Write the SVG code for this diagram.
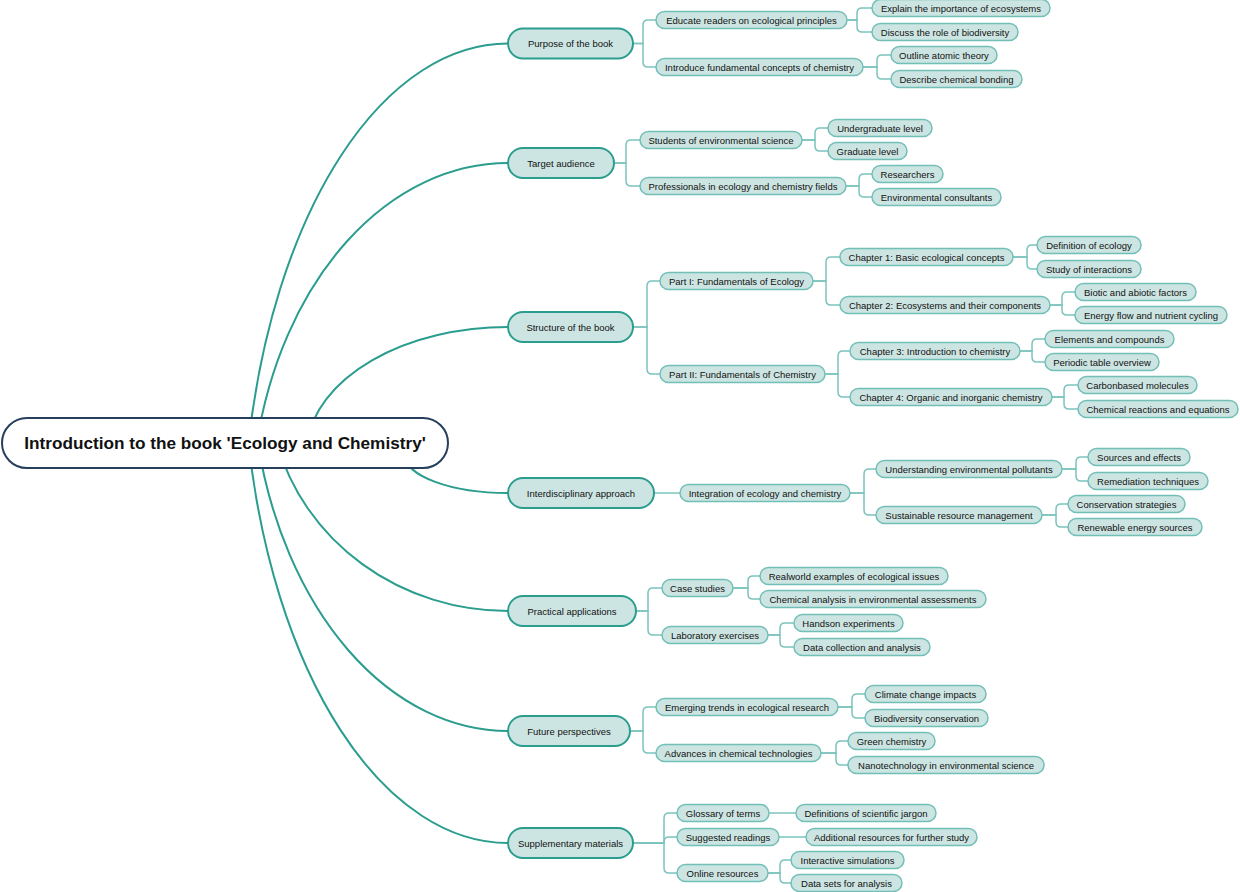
<svg xmlns="http://www.w3.org/2000/svg" width="1240" height="892" viewBox="0 0 1240 892">
<style>
text{font-family:"Liberation Sans",Arial,Helvetica,sans-serif;fill:#111;text-anchor:middle}
.t{font-size:9.5px}
.n2 text{transform:translateY(0.6px)}
.root rect{fill:#fff;stroke:#263f5c;stroke-width:2}
.root text{font-size:17.2px;font-weight:bold}
.n1 rect{fill:#cde5e2;stroke:#2a9d8f;stroke-width:2}
.n2 rect{fill:#cde5e2;stroke:#72bfb8;stroke-width:1.5}
.c1 path{fill:none;stroke:#2a9d8f;stroke-width:2}
.c2 path{fill:none;stroke:#7cc4bd;stroke-width:1.5}
</style>
<g id="connectors">
<g class="c1">
<path d="M248.5,443A265,502 0 0 1 508,43.5"/>
<path d="M256.8,443A257,355 0 0 1 508,163"/>
<path d="M306.9,443A202,128 0 0 1 508,327"/>
<path d="M405,455A103,38 0 0 0 508,493"/>
<path d="M277,443A239,226 0 0 0 508,611"/>
<path d="M257.8,443A257,373 0 0 0 508,731"/>
<path d="M248.5,443A265,502 0 0 0 508,843"/>
</g>
<g class="c2">
<path d="M633,43.5H643V25Q643,20 648,20H656"/>
<path d="M633,43.5H643V62Q643,67 648,67H656"/>
<path d="M847,20H857V13Q857,8 862,8H872"/>
<path d="M847,20H857V27Q857,32 862,32H872"/>
<path d="M863,67H877V60Q877,55 882,55H891"/>
<path d="M863,67H877V74Q877,79 882,79H891"/>
<path d="M614,163H626V145Q626,140 631,140H640"/>
<path d="M614,163H626V181Q626,186 631,186H640"/>
<path d="M802,140H815V133Q815,128 820,128H828"/>
<path d="M802,140H815V146Q815,151 820,151H828"/>
<path d="M846,186H859V179Q859,174 864,174H872"/>
<path d="M846,186H859V192Q859,197 864,197H872"/>
<path d="M633,327H647V286Q647,281 652,281H660"/>
<path d="M633,327H647V369Q647,374 652,374H660"/>
<path d="M813,281H826V262Q826,257 831,257H840"/>
<path d="M813,281H826V300Q826,305 831,305H840"/>
<path d="M825,374H838V356Q838,351 843,351H850"/>
<path d="M825,374H838V392Q838,397 843,397H850"/>
<path d="M1013,257H1027V250Q1027,245 1032,245H1037"/>
<path d="M1013,257H1027V264Q1027,269 1032,269H1037"/>
<path d="M1050,305H1062V297Q1062,292 1067,292H1075"/>
<path d="M1050,305H1062V310Q1062,315 1067,315H1075"/>
<path d="M1020,351H1032V344Q1032,339 1037,339H1045"/>
<path d="M1020,351H1032V357Q1032,362 1037,362H1045"/>
<path d="M1052,397H1064V390Q1064,385 1069,385H1078"/>
<path d="M1052,397H1064V404Q1064,409 1069,409H1078"/>
<path d="M654,493H680"/>
<path d="M850,493H864V474Q864,469 869,469H876"/>
<path d="M850,493H864V510Q864,515 869,515H876"/>
<path d="M1062,469H1076V462Q1076,457 1081,457H1088"/>
<path d="M1062,469H1076V476Q1076,481 1081,481H1088"/>
<path d="M1042,515H1056V509Q1056,504 1061,504H1068"/>
<path d="M1042,515H1056V522Q1056,527 1061,527H1068"/>
<path d="M636,611H648V593Q648,588 653,588H662"/>
<path d="M636,611H648V630Q648,635 653,635H662"/>
<path d="M733,588H748V581Q748,576 753,576H760"/>
<path d="M733,588H748V594Q748,599 753,599H760"/>
<path d="M768,635H780V628Q780,623 785,623H794"/>
<path d="M768,635H780V642Q780,647 785,647H794"/>
<path d="M630,731H643V712Q643,707 648,707H656"/>
<path d="M630,731H643V748Q643,753 648,753H656"/>
<path d="M838,707H852V699Q852,694 857,694H865"/>
<path d="M838,707H852V713Q852,718 857,718H865"/>
<path d="M821,753H836V746Q836,741 841,741H848"/>
<path d="M821,753H836V760Q836,765 841,765H848"/>
<path d="M633,843H664V818Q664,813 669,813H677"/>
<path d="M633,843H664V842Q664,837 669,837H677"/>
<path d="M633,843H664V868Q664,873 669,873H677"/>
<path d="M769,813H796"/>
<path d="M779,837H806"/>
<path d="M768,873H780V865Q780,860 785,860H791"/>
<path d="M768,873H780V878Q780,883 785,883H791"/>
</g>
</g>
<g id="root" class="root"><rect x="2" y="418" width="446" height="50" rx="25"/><text x="225" y="449">Introduction to the book 'Ecology and Chemistry'</text></g>
<g class="n1">
<g id="purpose"><rect x="508" y="28.5" width="125" height="30" rx="15"/><text class="t" x="570.5" y="47">Purpose of the book</text></g>
<g id="target"><rect x="508" y="148" width="106" height="30" rx="15"/><text class="t" x="561" y="166.5">Target audience</text></g>
<g id="structure"><rect x="508" y="312" width="125" height="30" rx="15"/><text class="t" x="570.5" y="330.5">Structure of the book</text></g>
<g id="interdisciplinary"><rect x="508" y="478" width="146" height="30" rx="15"/><text class="t" x="581" y="496.5">Interdisciplinary approach</text></g>
<g id="practical"><rect x="508" y="596" width="128" height="30" rx="15"/><text class="t" x="572" y="614.5">Practical applications</text></g>
<g id="future"><rect x="508" y="716" width="122" height="30" rx="15"/><text class="t" x="569" y="734.5">Future perspectives</text></g>
<g id="supplementary"><rect x="508" y="828" width="125" height="30" rx="15"/><text class="t" x="570.5" y="846.5">Supplementary materials</text></g>
</g>
<g class="n2">
<g id="educate"><rect x="656" y="11.5" width="191" height="17" rx="8.5"/><text class="t" x="751.5" y="23.4">Educate readers on ecological principles</text></g>
<g id="introduce"><rect x="656" y="58.5" width="207" height="17" rx="8.5"/><text class="t" x="759.5" y="70.4">Introduce fundamental concepts of chemistry</text></g>
<g id="explain"><rect x="872" y="-0.5" width="178" height="17" rx="8.5"/><text class="t" x="961" y="11.4">Explain the importance of ecosystems</text></g>
<g id="discuss"><rect x="872" y="23.5" width="146" height="17" rx="8.5"/><text class="t" x="945" y="35.4">Discuss the role of biodiversity</text></g>
<g id="outline"><rect x="891" y="46.5" width="106" height="17" rx="8.5"/><text class="t" x="944" y="58.4">Outline atomic theory</text></g>
<g id="describe"><rect x="891" y="70.5" width="131" height="17" rx="8.5"/><text class="t" x="956.5" y="82.4">Describe chemical bonding</text></g>
<g id="students"><rect x="640" y="131.5" width="162" height="17" rx="8.5"/><text class="t" x="721" y="143.4">Students of environmental science</text></g>
<g id="professionals"><rect x="640" y="177.5" width="206" height="17" rx="8.5"/><text class="t" x="743" y="189.4">Professionals in ecology and chemistry fields</text></g>
<g id="undergraduate"><rect x="828" y="119.5" width="104" height="17" rx="8.5"/><text class="t" x="880" y="131.4">Undergraduate level</text></g>
<g id="graduate"><rect x="828" y="142.5" width="79" height="17" rx="8.5"/><text class="t" x="867.5" y="154.4">Graduate level</text></g>
<g id="researchers"><rect x="872" y="165.5" width="71" height="17" rx="8.5"/><text class="t" x="907.5" y="177.4">Researchers</text></g>
<g id="consultants"><rect x="872" y="188.5" width="129" height="17" rx="8.5"/><text class="t" x="936.5" y="200.4">Environmental consultants</text></g>
<g id="part1"><rect x="660" y="272.5" width="153" height="17" rx="8.5"/><text class="t" x="736.5" y="284.4">Part I: Fundamentals of Ecology</text></g>
<g id="part2"><rect x="660" y="365.5" width="165" height="17" rx="8.5"/><text class="t" x="742.5" y="377.4">Part II: Fundamentals of Chemistry</text></g>
<g id="ch1"><rect x="840" y="248.5" width="173" height="17" rx="8.5"/><text class="t" x="926.5" y="260.4">Chapter 1: Basic ecological concepts</text></g>
<g id="ch2"><rect x="840" y="296.5" width="210" height="17" rx="8.5"/><text class="t" x="945" y="308.4">Chapter 2: Ecosystems and their components</text></g>
<g id="ch3"><rect x="850" y="342.5" width="170" height="17" rx="8.5"/><text class="t" x="935" y="354.4">Chapter 3: Introduction to chemistry</text></g>
<g id="ch4"><rect x="850" y="388.5" width="202" height="17" rx="8.5"/><text class="t" x="951" y="400.4">Chapter 4: Organic and inorganic chemistry</text></g>
<g id="defecology"><rect x="1037" y="236.5" width="104" height="17" rx="8.5"/><text class="t" x="1089" y="248.4">Definition of ecology</text></g>
<g id="interactions"><rect x="1037" y="260.5" width="104" height="17" rx="8.5"/><text class="t" x="1089" y="272.4">Study of interactions</text></g>
<g id="biotic"><rect x="1075" y="283.5" width="121" height="17" rx="8.5"/><text class="t" x="1135.5" y="295.4">Biotic and abiotic factors</text></g>
<g id="energy"><rect x="1075" y="306.5" width="152" height="17" rx="8.5"/><text class="t" x="1151" y="318.4">Energy flow and nutrient cycling</text></g>
<g id="elements"><rect x="1045" y="330.5" width="129" height="17" rx="8.5"/><text class="t" x="1109.5" y="342.4">Elements and compounds</text></g>
<g id="periodic"><rect x="1045" y="353.5" width="114" height="17" rx="8.5"/><text class="t" x="1102" y="365.4">Periodic table overview</text></g>
<g id="carbon"><rect x="1078" y="376.5" width="119" height="17" rx="8.5"/><text class="t" x="1137.5" y="388.4">Carbonbased molecules</text></g>
<g id="reactions"><rect x="1078" y="400.5" width="160" height="17" rx="8.5"/><text class="t" x="1158" y="412.4">Chemical reactions and equations</text></g>
<g id="integration"><rect x="680" y="484.5" width="170" height="17" rx="8.5"/><text class="t" x="765" y="496.4">Integration of ecology and chemistry</text></g>
<g id="pollutants"><rect x="876" y="460.5" width="186" height="17" rx="8.5"/><text class="t" x="969" y="472.4">Understanding environmental pollutants</text></g>
<g id="sustainable"><rect x="876" y="506.5" width="166" height="17" rx="8.5"/><text class="t" x="959" y="518.4">Sustainable resource management</text></g>
<g id="sources"><rect x="1088" y="448.5" width="102" height="17" rx="8.5"/><text class="t" x="1139" y="460.4">Sources and effects</text></g>
<g id="remediation"><rect x="1088" y="472.5" width="120" height="17" rx="8.5"/><text class="t" x="1148" y="484.4">Remediation techniques</text></g>
<g id="conservation"><rect x="1068" y="495.5" width="117" height="17" rx="8.5"/><text class="t" x="1126.5" y="507.4">Conservation strategies</text></g>
<g id="renewable"><rect x="1068" y="518.5" width="134" height="17" rx="8.5"/><text class="t" x="1135" y="530.4">Renewable energy sources</text></g>
<g id="casestudies"><rect x="662" y="579.5" width="71" height="17" rx="8.5"/><text class="t" x="697.5" y="591.4">Case studies</text></g>
<g id="lab"><rect x="662" y="626.5" width="106" height="17" rx="8.5"/><text class="t" x="715" y="638.4">Laboratory exercises</text></g>
<g id="realworld"><rect x="760" y="567.5" width="188" height="17" rx="8.5"/><text class="t" x="854" y="579.4">Realworld examples of ecological issues</text></g>
<g id="chemanalysis"><rect x="760" y="590.5" width="226" height="17" rx="8.5"/><text class="t" x="873" y="602.4">Chemical analysis in environmental assessments</text></g>
<g id="handson"><rect x="794" y="614.5" width="109" height="17" rx="8.5"/><text class="t" x="848.5" y="626.4">Handson experiments</text></g>
<g id="datacollection"><rect x="794" y="638.5" width="136" height="17" rx="8.5"/><text class="t" x="862" y="650.4">Data collection and analysis</text></g>
<g id="emerging"><rect x="656" y="698.5" width="182" height="17" rx="8.5"/><text class="t" x="747" y="710.4">Emerging trends in ecological research</text></g>
<g id="advances"><rect x="656" y="744.5" width="165" height="17" rx="8.5"/><text class="t" x="738.5" y="756.4">Advances in chemical technologies</text></g>
<g id="climate"><rect x="865" y="685.5" width="121" height="17" rx="8.5"/><text class="t" x="925.5" y="697.4">Climate change impacts</text></g>
<g id="biodiversity"><rect x="865" y="709.5" width="123" height="17" rx="8.5"/><text class="t" x="926.5" y="721.4">Biodiversity conservation</text></g>
<g id="green"><rect x="848" y="732.5" width="87" height="17" rx="8.5"/><text class="t" x="891.5" y="744.4">Green chemistry</text></g>
<g id="nano"><rect x="848" y="756.5" width="196" height="17" rx="8.5"/><text class="t" x="946" y="768.4">Nanotechnology in environmental science</text></g>
<g id="glossary"><rect x="677" y="804.5" width="92" height="17" rx="8.5"/><text class="t" x="723" y="816.4">Glossary of terms</text></g>
<g id="suggested"><rect x="677" y="828.5" width="102" height="17" rx="8.5"/><text class="t" x="728" y="840.4">Suggested readings</text></g>
<g id="online"><rect x="677" y="864.5" width="91" height="17" rx="8.5"/><text class="t" x="722.5" y="876.4">Online resources</text></g>
<g id="definitions"><rect x="796" y="804.5" width="140" height="17" rx="8.5"/><text class="t" x="866" y="816.4">Definitions of scientific jargon</text></g>
<g id="additional"><rect x="806" y="828.5" width="171" height="17" rx="8.5"/><text class="t" x="891.5" y="840.4">Additional resources for further study</text></g>
<g id="interactive"><rect x="791" y="851.5" width="113" height="17" rx="8.5"/><text class="t" x="847.5" y="863.4">Interactive simulations</text></g>
<g id="datasets"><rect x="791" y="874.5" width="111" height="17" rx="8.5"/><text class="t" x="846.5" y="886.4">Data sets for analysis</text></g>
</g>
</svg>
